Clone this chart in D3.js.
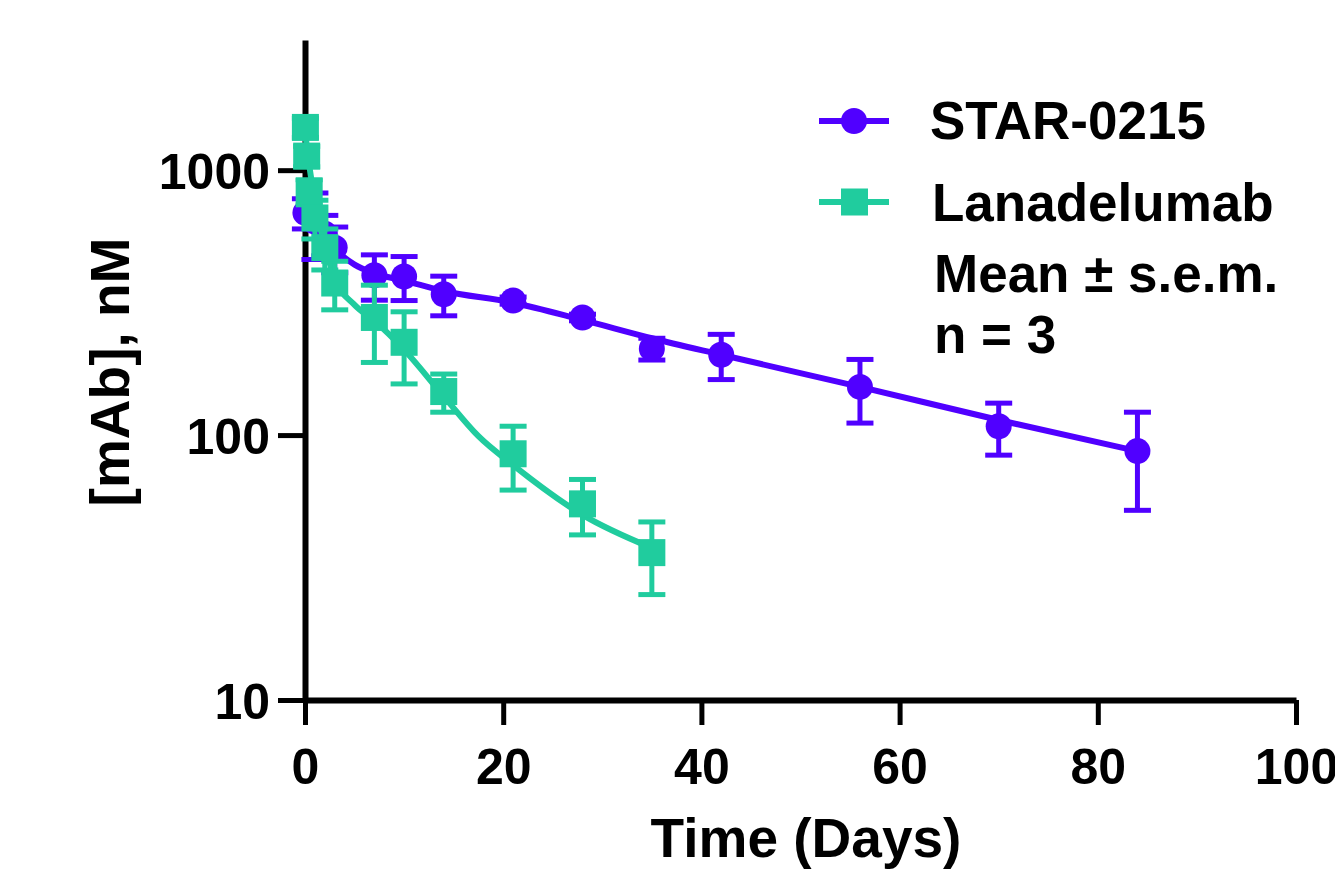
<!DOCTYPE html>
<html>
<head>
<meta charset="utf-8">
<script src="https://cdn.jsdelivr.net/npm/d3@7"></script>
<style>
  body { margin: 0; background: #fff; }
  text { font-family: "Liberation Sans", Arial, sans-serif; font-weight: bold; fill: #000; }
</style>
</head>
<body>
<svg id="pk-chart"></svg>
<script>
// Data (mean and s.e.m., nM)
const starDays = [0.04, 1, 2, 3, 7, 10, 14, 21, 28, 35, 42, 56, 70, 84];
const starMean = [690, 640, 575, 510, 401, 397, 340, 322, 278, 212, 201, 152, 108, 87];
const starSem  = [90, 180, 100, 100, 78, 75, 58, 10, 8, 20, 39, 41, 24, 35];

const lanaDays = [0.04, 0.17, 0.42, 1, 2, 3, 7, 10, 14, 21, 28, 35];
const lanaMean = [1450, 1130, 830, 660, 510, 375, 278, 224, 146, 85, 55, 36];
const lanaSem  = [120, 100, 90, 110, 90, 78, 90, 68, 24, 23, 13, 11];

// fitted curves
const starFitDays = [0, 1, 2, 3, 5, 7, 10, 14, 21, 28, 35, 42, 56, 70, 84];
const starFitVals = [720, 620, 560, 505, 440, 408, 383, 350, 316, 272, 232, 201, 152, 114, 87];
const lanaFitDays = [0, 0.5, 1, 2, 3, 5, 7, 10, 14, 17.5, 21, 28, 35];
const lanaFitVals = [1400, 1000, 760, 520, 390, 310, 270, 210, 140, 99, 77, 50, 37.5];

const xTicks = [0, 20, 40, 60, 80, 100];
const yTicks = [10, 100, 1000];

const purple = "#5000ff";
const green = "#20cc9e";

const width = 1335, height = 878;
const svg = d3.select("#pk-chart")
  .attr("width", width)
  .attr("height", height);

const x = d3.scaleLinear().domain([0, 100]).range([305, 1296]);
const y = d3.scaleLog().domain([10, 3100]).range([700, 40]);

// x axis
const xAxis = svg.append("g")
  .attr("transform", "translate(0,700)")
  .call(d3.axisBottom(x).tickValues(xTicks).tickSize(25).tickSizeOuter(0));
xAxis.select(".domain").attr("stroke", "#000").attr("stroke-width", 6);
xAxis.selectAll(".tick line").attr("stroke", "#000").attr("stroke-width", 5);
xAxis.selectAll(".tick text")
  .attr("y", 84).attr("dy", null)
  .attr("font-size", 50);

// y axis
const yAxis = svg.append("g")
  .attr("transform", "translate(305,0)")
  .call(d3.axisLeft(y).tickValues(yTicks).tickFormat(d3.format("d")).tickSize(27).tickSizeOuter(0));
yAxis.select(".domain").attr("stroke", "#000").attr("stroke-width", 6);
yAxis.selectAll(".tick line").attr("stroke", "#000").attr("stroke-width", 5);
yAxis.selectAll(".tick text")
  .attr("x", -35).attr("dy", "0.36em")
  .attr("font-size", 50);

// axis titles
svg.append("text")
  .attr("x", 806).attr("y", 857)
  .attr("text-anchor", "middle")
  .attr("font-size", 55)
  .text("Time (Days)");

svg.append("text")
  .attr("transform", "translate(129,372) rotate(-90)")
  .attr("text-anchor", "middle")
  .attr("font-size", 55)
  .text("[mAb], nM");

// one group per series: fitted curve, error bars, markers
function drawSeries(days, mean, sem, fitDays, fitVals, color, shape) {
  const rows = days.map((d, i) => ({ day: d, mean: mean[i], sem: sem[i] }));
  const fit = fitDays.map((d, i) => ({ day: d, val: fitVals[i] }));
  const g = svg.append("g");

  g.append("path")
    .datum(fit)
    .attr("fill", "none")
    .attr("stroke", color)
    .attr("stroke-width", 6)
    .attr("d", d3.line().x(d => x(d.day)).y(d => y(d.val)).curve(d3.curveMonotoneX));

  const bars = g.selectAll(".err")
    .data(rows)
    .enter()
    .append("g")
    .attr("stroke", color)
    .attr("stroke-width", 5);
  bars.append("line")
    .attr("x1", d => x(d.day)).attr("x2", d => x(d.day))
    .attr("y1", d => y(d.mean + d.sem)).attr("y2", d => y(d.mean - d.sem));
  bars.append("line")
    .attr("x1", d => x(d.day) - 13.5).attr("x2", d => x(d.day) + 13.5)
    .attr("y1", d => y(d.mean + d.sem)).attr("y2", d => y(d.mean + d.sem));
  bars.append("line")
    .attr("x1", d => x(d.day) - 13.5).attr("x2", d => x(d.day) + 13.5)
    .attr("y1", d => y(d.mean - d.sem)).attr("y2", d => y(d.mean - d.sem));

  if (shape === "circle") {
    g.selectAll(".mk").data(rows).enter().append("circle")
      .attr("cx", d => x(d.day)).attr("cy", d => y(d.mean))
      .attr("r", 13).attr("fill", color);
  } else {
    g.selectAll(".mk").data(rows).enter().append("rect")
      .attr("x", d => x(d.day) - 13.5).attr("y", d => y(d.mean) - 13.5)
      .attr("width", 27).attr("height", 27).attr("fill", color);
  }
}

drawSeries(starDays, starMean, starSem, starFitDays, starFitVals, purple, "circle");
drawSeries(lanaDays, lanaMean, lanaSem, lanaFitDays, lanaFitVals, green, "square");

// legend
const legend = svg.append("g");
legend.append("line").attr("x1", 819).attr("x2", 889).attr("y1", 121).attr("y2", 121)
  .attr("stroke", purple).attr("stroke-width", 6);
legend.append("circle").attr("cx", 854).attr("cy", 121).attr("r", 13).attr("fill", purple);
legend.append("text").attr("x", 930).attr("y", 139).attr("font-size", 53).text("STAR-0215");

legend.append("line").attr("x1", 819).attr("x2", 889).attr("y1", 202).attr("y2", 202)
  .attr("stroke", green).attr("stroke-width", 6);
legend.append("rect").attr("x", 841).attr("y", 188.5).attr("width", 27).attr("height", 27).attr("fill", green);
legend.append("text").attr("x", 932).attr("y", 221).attr("font-size", 53).text("Lanadelumab");

legend.append("text").attr("x", 934).attr("y", 292).attr("font-size", 53).text("Mean ± s.e.m.");
legend.append("text").attr("x", 934).attr("y", 353).attr("font-size", 53).text("n = 3");
</script>
</body>
</html>
